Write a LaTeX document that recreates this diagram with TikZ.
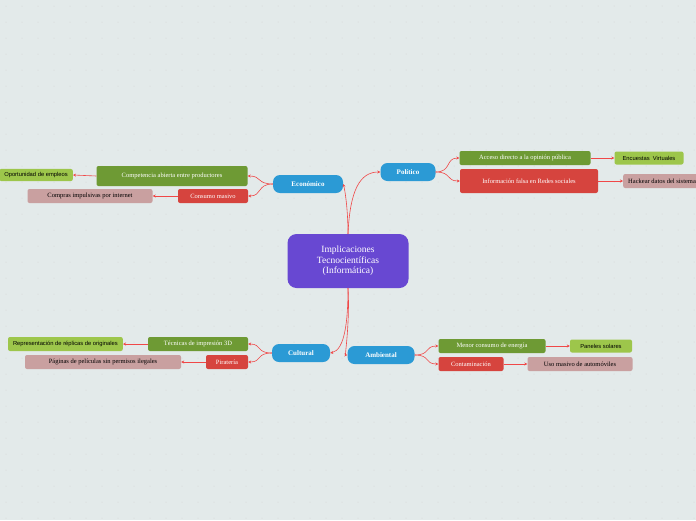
\documentclass[tikz,border=0pt]{standalone}
\usepackage{fontspec}
\setmainfont{Liberation Serif}
\newfontfamily\sansf{Liberation Sans}
\usetikzlibrary{arrows.meta}
\definecolor{bg}{HTML}{E3EAEA}
\definecolor{mainc}{HTML}{2B9AD5}
\definecolor{gr}{HTML}{6E9A34}
\definecolor{rd}{HTML}{D6443E}
\definecolor{lg}{HTML}{9DC64B}
\definecolor{pk}{HTML}{C9A0A0}
\definecolor{pu}{HTML}{6848D2}
\definecolor{ln}{HTML}{F04848}
\tikzset{
 mainb/.style={fill=mainc,rounded corners=7pt,text=white,font=\bfseries\fontsize{7}{8}\selectfont,minimum height=18pt,inner xsep=6pt},
 sub/.style={rounded corners=2pt,text=white,font=\fontsize{6.5}{8}\selectfont,minimum height=14pt,inner xsep=5pt},
 grb/.style={sub,fill=gr},
 rdb/.style={sub,fill=rd},
 lgb/.style={rounded corners=2pt,fill=lg,font=\sansf\fontsize{5.8}{7}\selectfont,minimum height=13pt,inner xsep=5pt},
 pkb/.style={rounded corners=2pt,fill=pk,font=\fontsize{6.5}{8}\selectfont,minimum height=14pt,inner xsep=5pt},
 con/.style={ln,line width=0.6pt,-{Stealth[length=3pt,width=3pt]}},
}
\begin{document}
\begin{tikzpicture}[x=1pt,y=-1pt]
\useasboundingbox (0,0) rectangle (696,520);
\fill[bg] (0,0) rectangle (696,520);
\foreach \i in {0,...,43}{\foreach \j in {0,...,32}{\fill[gray!35] (\i*16+6,\j*16+6) circle (0.5pt);}}
\node[fill=pu,rounded corners=9pt,text=white,align=center,minimum width=121pt,minimum height=54pt,font=\fontsize{9.5}{10.5}\selectfont] (c) at (348,261) {Implicaciones\\Tecnocientíficas\\(Informática)};
\node[mainb,minimum width=70pt] (eco) at (308,184) {Económico};
\node[mainb,minimum width=55pt] (pol) at (408,172) {Político};
\node[mainb,minimum width=58pt] (cul) at (301,353) {Cultural};
\node[mainb,minimum width=67pt] (amb) at (381,355) {Ambiental};
% Economico
\node[grb,minimum width=151pt,minimum height=20pt] (comp) at (172,176) {Competencia abierta entre productores};
\node[rdb,minimum width=70pt] (cons) at (213,196) {Consumo masivo};
\node[lgb,anchor=east,minimum height=12pt] (opo) at (73,175) {Oportunidad de empleos};
\node[pkb,minimum width=125pt] (compr) at (90,196) {Compras impulsivas por internet};
% Politico
\node[grb,minimum width=131pt] (acc) at (525,158) {Acceso directo a la opinión pública};
\node[rdb,minimum width=138pt,minimum height=24pt] (inf) at (529,181) {Información falsa en Redes sociales};
\node[lgb,minimum width=69pt] (enc) at (649,158) {Encuestas\ \ Virtuales};
\node[pkb,anchor=west] (hack) at (623,181) {Hackear datos del sistema};
% Cultural
\node[grb,minimum width=100pt] (tec) at (198,344) {Técnicas de impresión 3D};
\node[rdb,minimum width=42pt] (pir) at (227,362) {Piratería};
\node[lgb,anchor=east,minimum height=14pt] (rep) at (123,344) {Representación de réplicas de originales};
\node[pkb,minimum width=156pt] (pag) at (103,362) {Páginas de películas sin permisos ilegales};
% Ambiental
\node[grb,minimum width=107pt] (men) at (492,346) {Menor consumo de energía};
\node[rdb,minimum width=65pt] (cont) at (471,364) {Contaminación};
\node[lgb,minimum width=62pt] (pan) at (601,346) {Paneles solares};
\node[pkb,minimum width=105pt] (uso) at (580,364) {Uso masivo de automóviles};
% connectors from center
\draw[con] (c.north) .. controls (348,210) and (345,190) .. (eco.east);
\draw[con] (c.north) .. controls (350,190) and (360,172) .. (pol.west);
\draw[con] (c.south) .. controls (348,320) and (345,350) .. (cul.east);
\draw[con] (c.south) .. controls (350,320) and (345,355) .. (amb.west);
% children
\foreach \p/\k in {eco/comp,eco/cons,cul/tec,cul/pir}{
 \draw[con] (\p.west) .. controls +(-16,0) and +(14,0) .. (\k.east);}
\foreach \p/\k in {pol/acc,pol/inf,amb/men,amb/cont}{
 \draw[con] (\p.east) .. controls +(16,0) and +(-14,0) .. (\k.west);}
\foreach \p/\k in {comp/opo,cons/compr,tec/rep,pir/pag}{\draw[con] (\p.west) -- (\k.east);}
\foreach \p/\k in {acc/enc,inf/hack,men/pan,cont/uso}{\draw[con] (\p.east) -- (\k.west);}
\end{tikzpicture}
\end{document}
